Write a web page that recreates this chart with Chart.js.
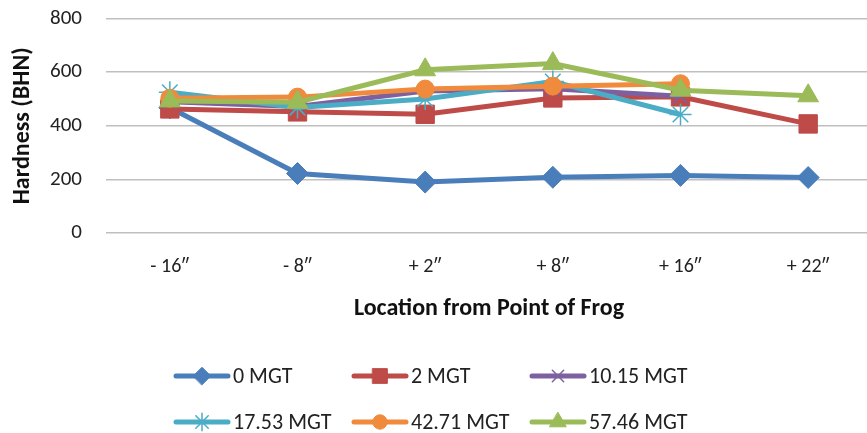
<!DOCTYPE html>
<html>
<head>
<meta charset="utf-8">
<script src="https://cdn.jsdelivr.net/npm/chart.js@4.4.1/dist/chart.umd.min.js"></script>
<style>
  html, body { margin: 0; padding: 0; background: #fff; overflow: hidden; }
  #wrap { width: 872px; height: 433px; overflow: hidden; }
  #chart { margin-top: -18px; display: block; }
</style>
</head>
<body>
<div id="wrap"><canvas id="chart" width="872" height="451"></canvas></div>
<script>
// datos
const posiciones = ['- 16\u2033', '- 8\u2033', '+ 2\u2033', '+ 8\u2033', '+ 16\u2033', '+ 22\u2033'];
const mgt0     = [467, 222, 190, 208, 215, 207];
const mgt2     = [463, 452, 443, 504, 508, 407];
const mgt1015  = [490, 472, 530, 538, 510, null];
const mgt1753  = [525, 468, 500, 565, 442, null];
const mgt4271  = [503, 507, 537, 548, 557, null];
const mgt5746  = [493, 488, 609, 632, 533, 512];
const yTicks   = [0, 200, 400, 600, 800];

const FUENTE = 'Carlito, Lato, "Noto Sans", sans-serif';
const DESPLAZ = 18; // el lienzo está subido 18px con CSS

const series = [
  { label: '0 MGT',     data: mgt0,    color: '#4A7EBB', style: 'rectRot',  r: 11, bw: 1 },
  { label: '2 MGT',     data: mgt2,    color: '#BE4B48', style: 'rect',     r: 13, bw: 1 },
  { label: '10.15 MGT', data: mgt1015, color: '#7D60A0', style: 'crossRot', r: 10, bw: 1.5 },
  { label: '17.53 MGT', data: mgt1753, color: '#4BACC6', style: 'star',     r: 11, bw: 1.5 },
  { label: '42.71 MGT', data: mgt4271, color: '#F08A3C', style: 'circle',   r: 9,  bw: 1 },
  { label: '57.46 MGT', data: mgt5746, color: '#9BBB59', style: 'triangle', r: 12, bw: 1 }
];

// leyenda en cuadrícula 3x2 como en Excel
const leyendaPlugin = {
  id: 'leyenda',
  afterDraw(chart) {
    const ctx = chart.ctx;
    ctx.save();
    series.forEach((s, i) => {
      const x = 176 + (i % 3) * 178;
      const y = 376 + DESPLAZ + Math.floor(i / 3) * 46;
      ctx.strokeStyle = s.color;
      ctx.lineWidth = 5;
      ctx.lineCap = 'round';
      ctx.beginPath();
      ctx.moveTo(x, y);
      ctx.lineTo(x + 52, y);
      ctx.stroke();
      ctx.fillStyle = s.color;
      ctx.lineWidth = s.bw;
      Chart.helpers.drawPoint(ctx, { pointStyle: s.style, radius: s.r * 0.8, rotation: 0, borderWidth: s.bw }, x + 26, y);
      ctx.fillStyle = '#222';
      ctx.font = '22px ' + FUENTE;
      ctx.textBaseline = 'middle';
      ctx.textAlign = 'left';
      ctx.fillText(s.label, x + 57, y + 1);
    });
    ctx.restore();
  }
};

new Chart(document.getElementById('chart').getContext('2d'), {
  type: 'line',
  data: {
    labels: posiciones,
    datasets: series.map((s, i) => ({
      label: s.label,
      data: s.data,
      borderColor: s.color,
      backgroundColor: s.color,
      borderWidth: 5,
      tension: 0,
      pointStyle: s.style,
      pointRadius: s.r,
      pointBorderWidth: s.bw,
      pointBorderColor: s.color,
      pointBackgroundColor: s.color,
      clip: false,
      order: 5 - i
    }))
  },
  options: {
    responsive: false,
    animation: false,
    layout: { autoPadding: false, padding: { top: 0, left: 0, right: 0, bottom: 110 } },
    plugins: { legend: { display: false }, tooltip: { enabled: false } },
    scales: {
      x: {
        offset: true,
        grid: { display: false },
        border: { display: false },
        ticks: { color: '#222', font: { family: FUENTE, size: 20 }, padding: 14 },
        title: { display: true, text: 'Location from Point of Frog', color: '#111',
                 font: { family: FUENTE, size: 24, weight: 'bold' }, padding: { top: 4, bottom: 0 } },
        afterFit(scale) { scale.height = 90; }
      },
      y: {
        min: 0, max: 800,
        afterBuildTicks(scale) { scale.ticks = yTicks.map(v => ({ value: v })); },
        grid: { color: '#BFBFBF', lineWidth: 1.5, drawTicks: false },
        border: { display: false },
        ticks: { color: '#222', font: { family: FUENTE, size: 21 }, padding: 24 },
        title: { display: true, text: 'Hardness (BHN)', color: '#111',
                 font: { family: FUENTE, size: 24, weight: 'bold' }, padding: { top: 9, bottom: 0 } },
        afterFit(scale) { scale.width = 106; }
      }
    }
  },
  plugins: [leyendaPlugin]
});
</script>
</body>
</html>
